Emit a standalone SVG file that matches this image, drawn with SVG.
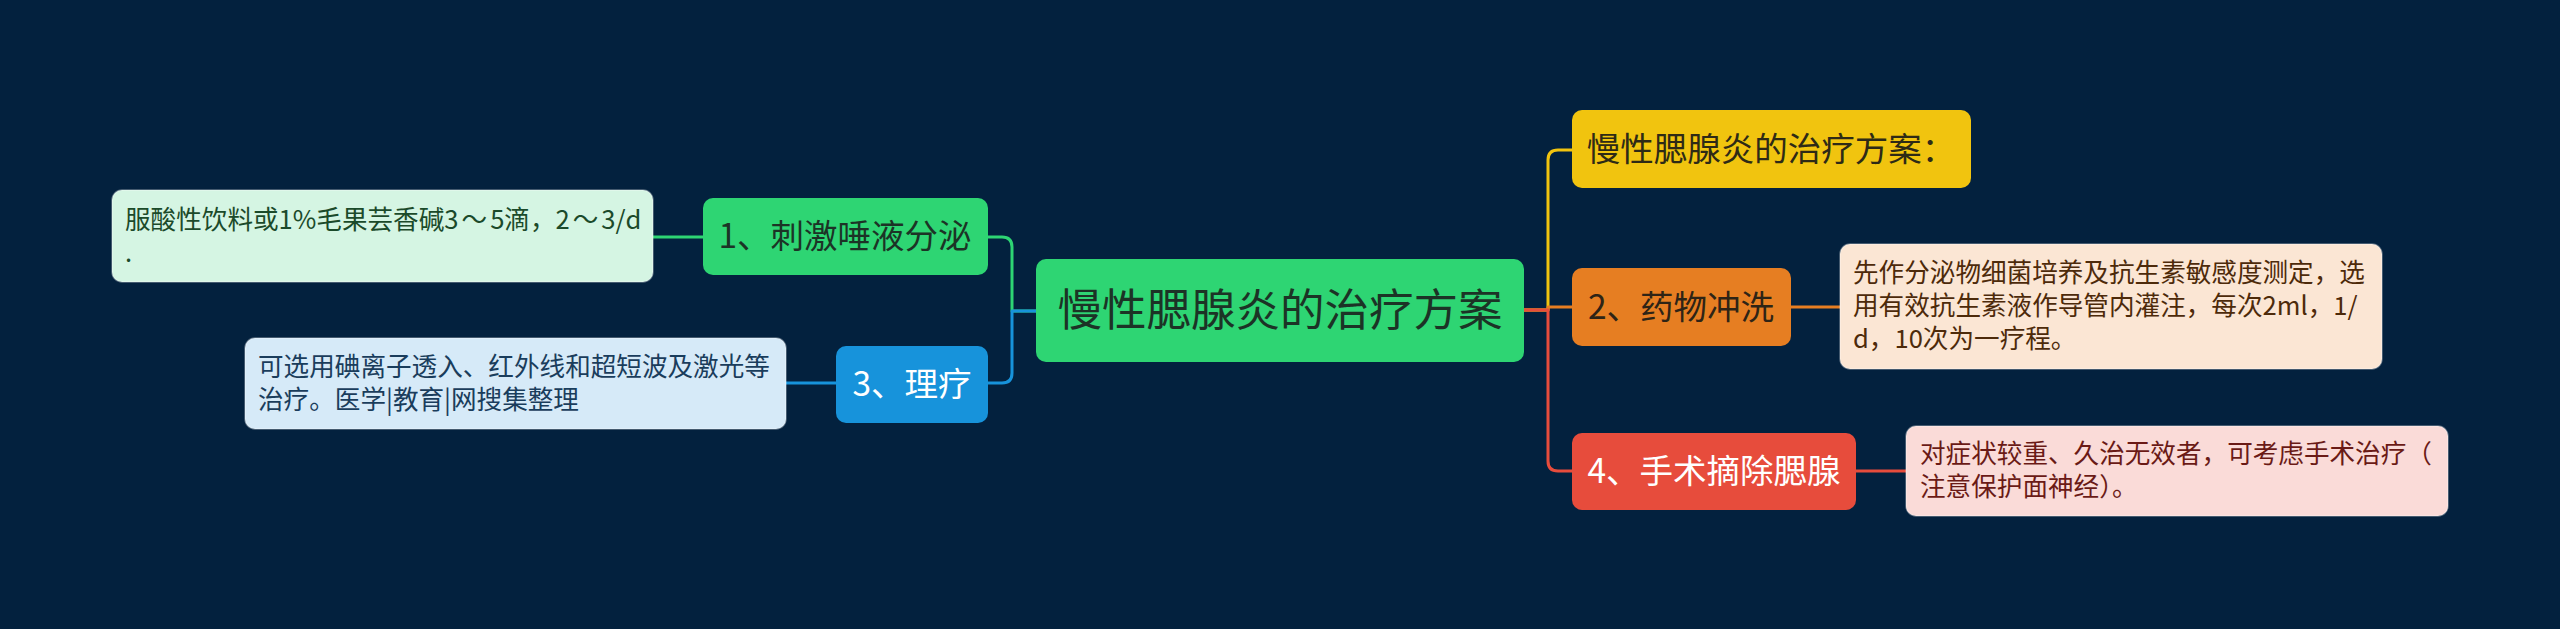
<svg xmlns="http://www.w3.org/2000/svg" width="2560" height="629" viewBox="0 0 2560 629">
<style>
text{font-family:"Noto Sans CJK SC","Noto Sans",sans-serif;}
.c{fill:none;stroke-width:3;stroke-linecap:round;stroke-linejoin:round;}
.l1{font-size:33.5px;text-anchor:middle;}
.d{font-size:25.6px;}
.box{stroke:#ffffff;stroke-opacity:0.35;stroke-width:1.5;}
</style>
<rect x="0" y="0" width="2560" height="629" fill="#03213e"/>
<g id="connectors">
<path class="c" stroke="#f1c40f" d="M1524 310 H1548 V160 Q1548 150 1558 150 H1572"/>
<path class="c" stroke="#e67e22" d="M1524 310 H1548 V307 H1572"/>
<path class="c" stroke="#e74c3c" d="M1524 310 H1548 V461 Q1548 471 1558 471 H1572"/>
<path class="c" stroke="#2ed573" d="M1036 311 H1012 V247 Q1012 237 1002 237 H988"/>
<path class="c" stroke="#1793db" d="M1036 311 H1012 V373 Q1012 383 1002 383 H988"/>
<path class="c" stroke="#2ed573" d="M653 237 H703"/>
<path class="c" stroke="#1793db" d="M786 383 H836"/>
<path class="c" stroke="#e67e22" d="M1791 307 H1840"/>
<path class="c" stroke="#e74c3c" d="M1856 471 H1906"/>
</g>
<g id="root">
<rect x="1036" y="259" width="488" height="103" rx="10" fill="#2ed573"/>
<text x="1280" y="326" font-size="44.5" text-anchor="middle" fill="#1c3326">慢性腮腺炎的治疗方案</text>
</g>
<g id="n1">
<rect x="703" y="198" width="285" height="77" rx="10" fill="#2ed573"/>
<text class="l1" x="845" y="248" fill="#1c3326">1、刺激唾液分泌</text>
</g>
<g id="n1d">
<rect class="box" x="112" y="190" width="541" height="92" rx="10" fill="#d5f5e3"/>
<text class="d" x="125" y="229" fill="#1b4a2a">服酸性饮料或1%毛果芸香碱3<tspan dx="3">～</tspan><tspan dx="3">5滴，2</tspan><tspan dx="3">～</tspan><tspan dx="3">3/d</tspan></text>
<text class="d" x="125" y="262" fill="#1b4a2a">.</text>
</g>
<g id="n3">
<rect x="836" y="346" width="152" height="77" rx="10" fill="#1793db"/>
<text class="l1" x="912" y="396" fill="#ffffff">3、理疗</text>
</g>
<g id="n3d">
<rect class="box" x="245" y="338" width="541" height="91" rx="10" fill="#d6eaf8"/>
<text class="d" x="258" y="376" fill="#1a3d5c">可选用碘离子透入、红外线和超短波及激光等</text>
<text class="d" x="258" y="409" fill="#1a3d5c">治疗。医学|教育|网搜集整理</text>
</g>
<g id="n0">
<rect x="1572" y="110" width="399" height="78" rx="10" fill="#f1c40f"/>
<text class="l1" x="1771" y="161" fill="#2e2a16">慢性腮腺炎的治疗方案：</text>
</g>
<g id="n2">
<rect x="1572" y="268" width="219" height="78" rx="10" fill="#e67e22"/>
<text class="l1" x="1681" y="319" fill="#2e2416">2、药物冲洗</text>
</g>
<g id="n2d">
<rect class="box" x="1840" y="244" width="542" height="125" rx="10" fill="#fbe6d4"/>
<text class="d" x="1853" y="282" fill="#4d2a0a">先作分泌物细菌培养及抗生素敏感度测定，选</text>
<text class="d" x="1853" y="315" fill="#4d2a0a">用有效抗生素液作导管内灌注，每次2ml，1/</text>
<text class="d" x="1853" y="348" fill="#4d2a0a">d，10次为一疗程。</text>
</g>
<g id="n4">
<rect x="1572" y="433" width="284" height="77" rx="10" fill="#e74c3c"/>
<text class="l1" x="1714" y="483" fill="#ffffff">4、手术摘除腮腺</text>
</g>
<g id="n4d">
<rect class="box" x="1906" y="426" width="542" height="90" rx="10" fill="#fadbd8"/>
<text class="d" x="1920" y="463" fill="#6a1a16">对症状较重、久治无效者，可考虑手术治疗（</text>
<text class="d" x="1920" y="496" fill="#6a1a16">注意保护面神经）。</text>
</g>
</svg>
